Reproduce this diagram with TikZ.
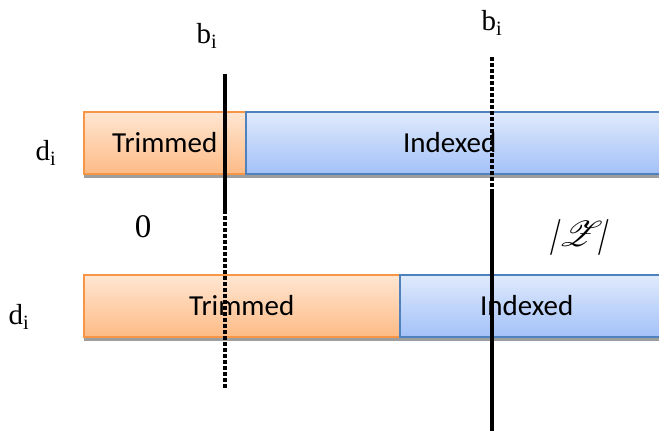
\documentclass[tikz,border=0pt]{standalone}
\usepackage{fontspec}
\usepackage{mathrsfs}
\setmainfont{Liberation Serif}
\newfontfamily\barfont{Carlito}
\usetikzlibrary{shadows}
\definecolor{orangeTop}{HTML}{FFE6D2}
\definecolor{orangeBot}{HTML}{FDBB86}
\definecolor{orangeEdge}{HTML}{F79646}
\definecolor{blueTop}{HTML}{E0EAFC}
\definecolor{blueBot}{HTML}{A3C1F8}
\definecolor{blueEdge}{HTML}{4F81BD}
\tikzset{
  barbase/.style={draw, line width=1.5pt, anchor=north west, inner sep=0pt,
    font=\barfont\fontsize{29}{31}\selectfont,
    drop shadow={shadow xshift=0pt, shadow yshift=-4pt, fill=black!38, opacity=1}},
  trimbar/.style={barbase, draw=orangeEdge, top color=orangeTop, bottom color=orangeBot},
  idxbar/.style={barbase, draw=blueEdge, top color=blueTop, bottom color=blueBot},
  solidline/.style={line width=4.5pt},
  dashline/.style={line width=4.5pt, dash pattern=on 3.5pt off 2.5pt},
  lbl/.style={inner sep=0pt, font=\fontsize{29}{32}\selectfont}
}
\begin{document}
\begin{tikzpicture}[x=1pt,y=-1pt]
\useasboundingbox (0,0) rectangle (659,432);
% top bar
\node[trimbar, minimum width=162pt, minimum height=62pt] (t1) at (83,111) {Trimmed};
\node[idxbar, minimum width=420pt, minimum height=62pt] (i1) at (245,111) {\hspace*{-6pt}Indexed\hspace*{6pt}};
% bottom bar
\node[trimbar, minimum width=316pt, minimum height=62pt] (t2) at (83,274) {Trimmed};
\node[idxbar, minimum width=266pt, minimum height=62pt] (i2) at (399,274) {\hspace*{-6pt}Indexed\hspace*{6pt}};
% labels
\node[lbl] (d1) at (46,153) {d\textsubscript{i}};
\node[lbl] (d2) at (19,317) {d\textsubscript{i}};
\node[lbl] (b1) at (207,36) {b\textsubscript{i}};
\node[lbl] (b2) at (492,23) {b\textsubscript{i}};
\node[lbl, font=\fontsize{33}{36}\selectfont] (z0) at (143,227) {0};
\node[lbl, xslant=0.25] (zz) at (580,237) {\scalebox{1.45}{$|\mathscr{Z}|$}};
% vertical lines
\coordinate (la) at (225,74);
\coordinate (lb) at (225,210);
\coordinate (lc) at (225,389);
\coordinate (ra) at (492,57);
\coordinate (rb) at (492,190);
\coordinate (rc) at (492,431);
\draw[solidline] (la) -- (lb);
\draw[dashline] (lb) -- (lc);
\draw[dashline] (ra) -- (rb);
\draw[solidline] (rb) -- (rc);
\end{tikzpicture}
\end{document}
